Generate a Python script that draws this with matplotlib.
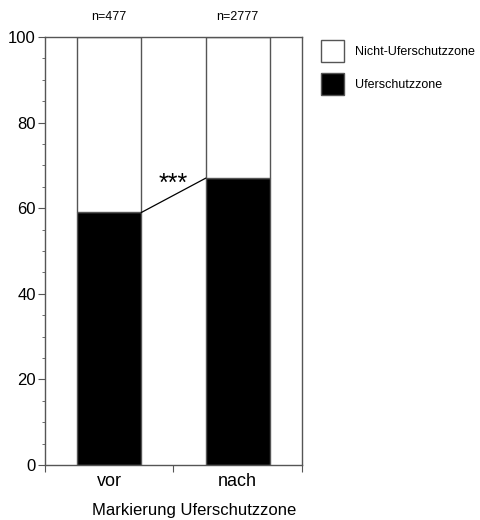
import matplotlib
matplotlib.use('agg')
import matplotlib.pyplot as plt
from matplotlib.patches import Patch

plt.rcParams['font.family'] = ['Liberation Sans', 'DejaVu Sans']

categories = ["vor", "nach"]
n_labels = ["n=477", "n=2777"]
ufer = [59, 67]
nicht_ufer = [41, 33]

grey = "#555555"
fig = plt.figure(figsize=(4.81, 5.2), dpi=100)
ax = fig.add_axes([0.0936, 0.1058, 0.534, 0.823])

x = [0.5, 1.5]
ax.bar(x, ufer, width=0.5, color="black", edgecolor=grey, linewidth=1, label="Uferschutzzone")
ax.bar(x, nicht_ufer, width=0.5, bottom=ufer, color="white", edgecolor=grey, linewidth=1,
       label="Nicht-Uferschutzzone")

# connecting line between the two black bars
ax.plot([x[0] + 0.25, x[1] - 0.25], ufer, color="black", linewidth=0.9)
ax.text(1.0, 64, "***", ha="center", va="baseline", fontsize=18)

for xi, lab in zip(x, n_labels):
    ax.text(xi, 104, lab, ha="center", va="baseline", fontsize=9)

ax.set_xlim(0, 2)
ax.set_ylim(0, 100)
ax.set_xticks([0, 1, 2])
ax.set_xticklabels([])
ax.set_xticks(x, minor=True)
ax.set_xticklabels(categories, minor=True, fontsize=13)
ax.tick_params(axis="x", which="minor", length=0, pad=6)
ax.tick_params(axis="x", which="major", length=5, color=grey)
ax.set_yticks(range(0, 101, 20))
ax.set_yticks(range(0, 101, 5), minor=True)
ax.tick_params(axis="y", which="major", length=5, labelsize=12, color=grey, pad=1.5)
ax.tick_params(axis="y", which="minor", length=2.2, color=grey)
for s in ax.spines.values():
    s.set_color(grey)
    s.set_linewidth(1)

# x-axis title sits right of centre in the original
fig.text(194.5 / 481, 1 - 515 / 520, "Markierung Uferschutzzone", ha="center",
         va="baseline", fontsize=12)

handles = [Patch(facecolor="white", edgecolor=grey), Patch(facecolor="black", edgecolor=grey)]
fig.legend(handles, ["Nicht-Uferschutzzone", "Uferschutzzone"], loc="upper left",
           bbox_to_anchor=(0.667, 0.923), frameon=False, fontsize=9, borderpad=0,
           borderaxespad=0, handlelength=1.84, handleheight=2.33, labelspacing=0.87,
           handletextpad=0.88)

fig.savefig("out.png", dpi=100)
